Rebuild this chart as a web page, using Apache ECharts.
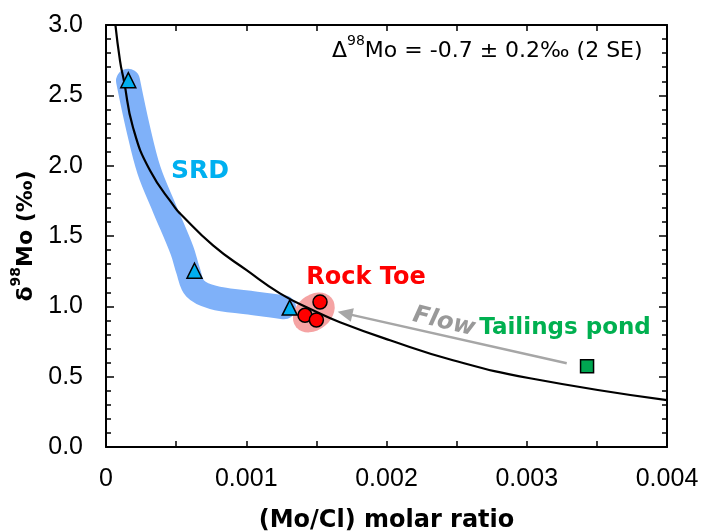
<!DOCTYPE html>
<html>
<head>
<meta charset="utf-8">
<script src="https://cdn.jsdelivr.net/npm/echarts@6/dist/echarts.min.js"></script>
<style>
  html, body { margin: 0; padding: 0; background: #fff; }
  #chart { width: 704px; height: 531px; }
</style>
</head>
<body>
<div id="chart"></div>
<script>
// δ98Mo against (Mo/Cl) molar ratio, with a fractionation model curve

// Sample groups: [Mo/Cl molar ratio, δ98Mo ‰]
const srdSamples = [[0.000159, 2.608], [0.000631, 1.253], [0.00131, 0.991]];
const rockToeSamples = [[0.001419, 0.936], [0.0015, 0.903], [0.001526, 1.031]];
const tailingsSamples = [[0.00343, 0.574]];

// Model curve (Δ98Mo = -0.7 ‰)
const modelX = [0.000064, 0.0001, 0.000128, 0.000193, 0.000314, 0.000492, 0.000528, 0.000763,
                0.001005, 0.00124, 0.001476, 0.001668, 0.002025, 0.002474, 0.003023, 0.004];
const modelY = [3.03, 2.745, 2.603, 2.27, 1.965, 1.702, 1.66, 1.433,
                1.255, 1.092, 0.972, 0.887, 0.759, 0.617, 0.489, 0.333];

// Hand-traced SRD trend band
const srdTrendX = [0.000157, 0.000228, 0.000307, 0.000414, 0.000542, 0.000585, 0.000635,
                   0.000763, 0.001005, 0.001169, 0.001269];
const srdTrendY = [2.603, 2.27, 1.965, 1.702, 1.397, 1.255, 1.128, 1.064, 1.028, 1.007, 0.993];

// Flow direction: from the tailings pond towards the rock toe
const flowFrom = [0.003285, 0.595];
const flowTo = [0.001704, 0.95];

// Axis ranges
const xRange = [0, 0.004, 0.001];
const yRange = [0, 3, 0.5];

const zip = (xs, ys) => xs.map((x, i) => [x, ys[i]]);
const centroid = pts => [
  pts.reduce((s, p) => s + p[0], 0) / pts.length,
  pts.reduce((s, p) => s + p[1], 0) / pts.length
];

const FONT = 'DejaVu Sans';
const TICK_FONT = 'Liberation Sans';
const tickStyle = { color: '#000', width: 1.5 };

const baseX = {
  type: 'value', min: xRange[0], max: xRange[1], interval: xRange[2],
  axisLine: { onZero: false, lineStyle: { color: '#000', width: 2 } },
  axisTick: { inside: true, length: 6, lineStyle: tickStyle },
  minorTick: { show: true, splitNumber: 2, length: 6, lineStyle: tickStyle },
  splitLine: { show: false }, minorSplitLine: { show: false }
};
const baseY = {
  type: 'value', min: yRange[0], max: yRange[1], interval: yRange[2],
  axisLine: { onZero: false, lineStyle: { color: '#000', width: 2 } },
  axisTick: { inside: true, length: 8, lineStyle: tickStyle },
  minorTick: { show: true, splitNumber: 5, length: 5, lineStyle: tickStyle },
  splitLine: { show: false }, minorSplitLine: { show: false }
};

const chart = echarts.init(document.getElementById('chart'), null, { renderer: 'canvas' });

chart.setOption({
  animation: false,
  backgroundColor: '#fff',
  textStyle: { fontFamily: FONT },
  grid: { left: 106, right: 37, top: 25, bottom: 84, containLabel: false, outerBoundsMode: 'none' },
  xAxis: [
    Object.assign({}, baseX, {
      position: 'bottom',
      axisLabel: {
        color: '#000', fontSize: 25, fontFamily: TICK_FONT, margin: 20,
        formatter: v => (v === 0 ? '0' : v.toFixed(3))
      },
      name: '(Mo/Cl) molar ratio',
      nameLocation: 'middle',
      nameGap: 62,
      nameTextStyle: { color: '#000', fontSize: 24, fontWeight: 'bold', fontFamily: FONT }
    }),
    Object.assign({}, baseX, { position: 'top', axisLabel: { show: false } })
  ],
  yAxis: [
    Object.assign({}, baseY, {
      position: 'left',
      axisLabel: {
        color: '#000', fontSize: 25, fontFamily: TICK_FONT, margin: 23,
        formatter: v => v.toFixed(1)
      },
      name: '{m|δ}{s|98}{m|Mo (‰)}',
      nameLocation: 'middle',
      nameRotate: 90,
      nameGap: 64,
      nameTextStyle: {
        color: '#000', fontFamily: FONT,
        rich: {
          m: { fontSize: 22, fontWeight: 'bold', fontFamily: FONT, color: '#000', lineHeight: 28, verticalAlign: 'bottom' },
          s: { fontSize: 14, fontWeight: 'bold', fontFamily: FONT, color: '#000', verticalAlign: 'top' }
        }
      }
    }),
    Object.assign({}, baseY, { position: 'right', axisLabel: { show: false } })
  ],
  series: [
    {
      name: 'SRD trend', type: 'line', data: zip(srdTrendX, srdTrendY),
      smooth: 0.35, showSymbol: false, silent: true, z: 1,
      lineStyle: { color: '#7fb1f9', width: 24, cap: 'round', join: 'round' }
    },
    {
      name: 'Rock Toe area', type: 'scatter', data: [centroid(rockToeSamples)],
      symbol: 'circle', symbolSize: [46, 35], symbolRotate: 40, silent: true, z: 2,
      itemStyle: { color: '#f5a3a3', opacity: 1 }
    },
    {
      name: 'Model', type: 'line', data: zip(modelX, modelY),
      smooth: 0.5, showSymbol: false, clip: true, z: 3,
      lineStyle: { color: '#000', width: 2.2 },
      markLine: {
        silent: true, animation: false, symbol: ['none', 'triangle'], symbolSize: [14, 15],
        label: { show: false },
        lineStyle: { color: '#a6a6a6', width: 2.5, type: 'solid' },
        data: [[{ coord: flowFrom }, { coord: flowTo }]]
      }
    },
    {
      name: 'SRD', type: 'scatter', data: srdSamples, symbol: 'triangle', symbolSize: 15, z: 5,
      itemStyle: { color: '#00aeef', borderColor: '#000', borderWidth: 1.5, opacity: 1 }
    },
    {
      name: 'Rock Toe', type: 'scatter', data: rockToeSamples, symbol: 'circle', symbolSize: 14, z: 5,
      itemStyle: { color: '#ff0000', borderColor: '#000', borderWidth: 1.5, opacity: 1 }
    },
    {
      name: 'Tailings pond', type: 'scatter', data: tailingsSamples, symbol: 'rect', symbolSize: 13, z: 5,
      itemStyle: { color: '#00a651', borderColor: '#000', borderWidth: 1.5, opacity: 1 }
    }
  ],
  graphic: [
    {
      type: 'text', x: 332, y: 48, z: 10,
      style: {
        text: '{m|Δ}{s|98}{m|Mo = -0.7 ± 0.2‰ (2 SE)}',
        verticalAlign: 'middle', align: 'left',
        rich: {
          m: { fontSize: 22, fontFamily: FONT, fill: '#000', lineHeight: 28, verticalAlign: 'bottom' },
          s: { fontSize: 14, fontFamily: FONT, fill: '#000', verticalAlign: 'top' }
        }
      }
    },
    {
      type: 'text', x: 200, y: 171, z: 10,
      style: { text: 'SRD', font: 'bold 25px "DejaVu Sans"', fill: '#00b0f0', align: 'center', verticalAlign: 'middle' }
    },
    {
      type: 'text', x: 366, y: 278, z: 10,
      style: { text: 'Rock Toe', font: 'bold 24px "DejaVu Sans"', fill: '#ff0000', align: 'center', verticalAlign: 'middle' }
    },
    {
      type: 'text', x: 565, y: 328, z: 10,
      style: { text: 'Tailings pond', font: 'bold 23px "DejaVu Sans"', fill: '#00b050', align: 'center', verticalAlign: 'middle' }
    },
    {
      type: 'text', x: 444, y: 322, rotation: -0.23, z: 10,
      style: { text: 'Flow', font: 'italic bold 24px "DejaVu Sans"', fill: '#999999', align: 'center', verticalAlign: 'middle' }
    }
  ]
});
</script>
</body>
</html>
